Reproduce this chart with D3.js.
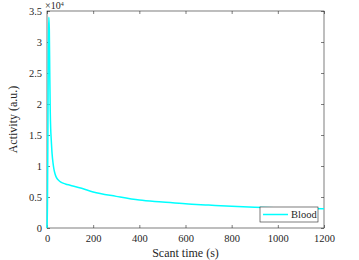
<!DOCTYPE html>
<html>
<head>
<meta charset="utf-8">
<script src="https://cdn.jsdelivr.net/npm/d3@7"></script>
<style>
body { margin: 0; background: #fff; }
</style>
</head>
<body>
<div id="chart"></div>
<script>

// scan time in seconds, activity in units of 1e4
var times = [0, 2, 4, 6, 8, 10, 12, 14, 16, 18, 22, 26, 30, 35, 40, 45, 50, 60, 80, 100, 150, 200, 300, 400, 500, 600, 700, 800, 900, 1000, 1100, 1200];
var blood = [0, 0.4, 1.6, 3.0, 3.4, 3.2, 2.5, 1.9, 1.6, 1.45, 1.2, 1.05, 0.95, 0.87, 0.82, 0.79, 0.77, 0.74, 0.71, 0.69, 0.64, 0.58, 0.51, 0.45, 0.42, 0.39, 0.37, 0.35, 0.335, 0.325, 0.315, 0.31];

var xTicks = [0, 200, 400, 600, 800, 1000, 1200];
var yTicks = [0, 0.5, 1, 1.5, 2, 2.5, 3, 3.5];

var width = 359, height = 260;
var margin = {left: 47, right: 35, top: 11, bottom: 32};
var serif = "Liberation Serif";

var svg = d3.select("#chart").append("svg")
	.attr("width", width)
	.attr("height", height)
	.attr("font-family", serif);

var x = d3.scaleLinear().domain([0, 1200]).range([margin.left, width - margin.right]);
var y = d3.scaleLinear().domain([0, 3.5]).range([height - margin.bottom, margin.top]);

var axisColor = "#262626";

// plot frame
svg.append("rect")
	.attr("x", x(0))
	.attr("y", y(3.5))
	.attr("width", x(1200) - x(0))
	.attr("height", y(0) - y(3.5))
	.attr("fill", "none")
	.attr("stroke", axisColor)
	.attr("stroke-width", 0.6);

function styleAxis(g)
{
	g.attr("font-family", serif).attr("font-size", 10.5);
	g.select(".domain").remove();
	g.selectAll(".tick line").attr("stroke", axisColor).attr("stroke-width", 0.6);
	g.selectAll(".tick text").attr("fill", axisColor).attr("font-family", serif);
}

var xAxis = svg.append("g")
	.attr("transform", "translate(0," + y(0) + ")")
	.call(d3.axisBottom(x).tickValues(xTicks).tickSize(-3).tickPadding(7).tickFormat(d3.format("d")));
styleAxis(xAxis);

svg.append("g")
	.attr("transform", "translate(0," + y(3.5) + ")")
	.call(d3.axisTop(x).tickValues(xTicks).tickSize(-3).tickFormat(""))
	.call(styleAxis);

var yAxis = svg.append("g")
	.attr("transform", "translate(" + x(0) + ",0)")
	.call(d3.axisLeft(y).tickValues(yTicks).tickSize(-3).tickPadding(5).tickFormat(d3.format("")));
styleAxis(yAxis);

svg.append("g")
	.attr("transform", "translate(" + x(1200) + ",0)")
	.call(d3.axisRight(y).tickValues(yTicks).tickSize(-3).tickFormat(""))
	.call(styleAxis);

// exponent label
var expo = svg.append("text")
	.attr("x", x(0) - 2)
	.attr("y", y(3.5) - 2)
	.attr("fill", axisColor)
	.attr("font-family", serif)
	.attr("font-size", 10);
expo.append("tspan").text("\u00d710");
expo.append("tspan").attr("dy", -3).attr("font-size", 6).text("4");

// data line
var line = d3.line()
	.x(function(d, i) { return x(times[i]); })
	.y(function(d) { return y(d); })
	.curve(d3.curveMonotoneX);

svg.append("path")
	.datum(blood)
	.attr("d", line)
	.attr("fill", "none")
	.attr("stroke", "#00ffff")
	.attr("stroke-width", 1.5);

// axis titles
svg.append("text")
	.attr("x", (x(0) + x(1200)) / 2)
	.attr("y", 257)
	.attr("text-anchor", "middle")
	.attr("fill", axisColor)
	.attr("font-family", serif)
	.attr("font-size", 12)
	.text("Scant time (s)");

svg.append("text")
	.attr("transform", "translate(17," + ((y(0) + y(3.5)) / 2) + ") rotate(-90)")
	.attr("text-anchor", "middle")
	.attr("fill", axisColor)
	.attr("font-family", serif)
	.attr("font-size", 12)
	.text("Activity (a.u.)");

// legend
var legend = svg.append("g").attr("transform", "translate(260,207)");

legend.append("rect")
	.attr("width", 58)
	.attr("height", 15)
	.attr("fill", "#fff")
	.attr("stroke", axisColor)
	.attr("stroke-width", 0.6);

legend.append("line")
	.attr("x1", 3).attr("x2", 28)
	.attr("y1", 7.5).attr("y2", 7.5)
	.attr("stroke", "#00ffff")
	.attr("stroke-width", 1.5);

legend.append("text")
	.attr("x", 31)
	.attr("y", 11)
	.attr("fill", axisColor)
	.attr("font-family", serif)
	.attr("font-size", 10.5)
	.text("Blood");

</script>
</body>
</html>
